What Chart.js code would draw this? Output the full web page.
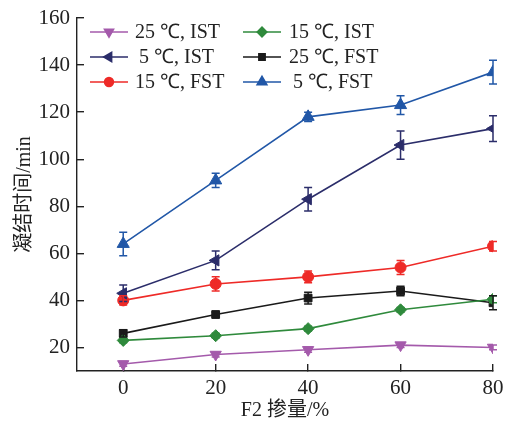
<!DOCTYPE html>
<html>
<head>
<meta charset="utf-8">
<script src="https://cdn.jsdelivr.net/npm/chart.js@4.4.1/dist/chart.umd.min.js"></script>
<style>
html,body{margin:0;padding:0;background:#fff;}
#wrap{width:509px;height:425px;position:relative;}
</style>
</head>
<body>
<div id="wrap"><canvas id="c" width="509" height="425"></canvas></div>
<script>
// ---- data ----
const categories = [0, 20, 40, 60, 80];
const xTicks = [0, 20, 40, 60, 80];
const yTicks = [20, 40, 60, 80, 100, 120, 140, 160];

const ist25 = [13, 17, 19, 21, 20];
const ist25Err = [1, 1, 1, 1, 1];
const ist15 = [23, 25, 28, 36, 40.5];
const ist15Err = [1, 1, 1, 1, 1.5];
const ist5 = [43, 57, 83, 106, 113];
const ist5Err = [3.5, 4, 5, 6, 5.5];
const fst25 = [26, 34, 41, 44, 39];
const fst25Err = [1.5, 1, 2.5, 2, 3];
const fst15 = [40, 47, 50, 54, 63];
const fst15Err = [2, 3, 2.5, 3, 2];
const fst5 = [64, 91, 118, 123, 137];
const fst5Err = [5, 3, 2, 4, 5];

const temps = ['25', '15', '5', '25', '15', '5'];
const kinds = ['IST', 'IST', 'IST', 'FST', 'FST', 'FST'];
const labels = temps.map((t, i) => t + ' ℃, ' + kinds[i]);

const serif = "'Liberation Serif', 'Times New Roman', serif";

function mk(label, vals, errs, color, style, rot, radius) {
  return {
    label: label,
    data: categories.map((x, i) => ({x: x, y: vals[i]})),
    errs: errs,
    borderColor: color,
    backgroundColor: color,
    pointBackgroundColor: color,
    pointBorderColor: color,
    pointStyle: style,
    rotation: rot,
    pointRadius: radius,
    pointBorderWidth: 1,
    borderWidth: 1.6,
    tension: 0,
    fill: false
  };
}

const datasets = [
  mk(labels[0], ist25, ist25Err, '#a45aab', 'triangle', 180, 6.5),
  mk(labels[1], ist15, ist15Err, '#2f8a3c', 'rectRot', 0, 6),
  mk(labels[2], ist5, ist5Err, '#2b2d6a', 'triangle', -90, 6.5),
  mk(labels[3], fst25, fst25Err, '#1a1a1a', 'rect', 0, 5.5),
  mk(labels[4], fst15, fst15Err, '#ee2a27', 'circle', 0, 5.5),
  mk(labels[5], fst5, fst5Err, '#2157a7', 'triangle', 0, 7)
];

const errorBars = {
  id: 'errorBars',
  afterDatasetsDraw(chart) {
    const ctx = chart.ctx, ys = chart.scales.y, xs = chart.scales.x;
    chart.data.datasets.forEach((ds) => {
      ctx.save();
      ctx.strokeStyle = ds.borderColor;
      ctx.lineWidth = 1.5;
      ds.data.forEach((p, i) => {
        const e = ds.errs[i];
        const px = xs.getPixelForValue(p.x);
        const y1 = ys.getPixelForValue(p.y + e), y2 = ys.getPixelForValue(p.y - e);
        ctx.beginPath();
        ctx.moveTo(px, y1); ctx.lineTo(px, y2);
        ctx.moveTo(px - 4, y1); ctx.lineTo(px + 4, y1);
        ctx.moveTo(px - 4, y2); ctx.lineTo(px + 4, y2);
        ctx.stroke();
      });
      ctx.restore();
    });
  }
};

const customLegend = {
  id: 'customLegend',
  afterDraw(chart) {
    const ctx = chart.ctx;
    const cols = [{lx: 90, tx: 135}, {lx: 243, tx: 289}];
    const rows = [32, 57, 82];
    ctx.save();
    ctx.textBaseline = 'middle';
    ctx.textAlign = 'left';
    ctx.font = "20px " + serif;
    chart.data.datasets.forEach((ds, i) => {
      const c = cols[i % 2], y = rows[Math.floor(i / 2)];
      ctx.strokeStyle = ds.borderColor;
      ctx.lineWidth = 1.6;
      ctx.beginPath();
      ctx.moveTo(c.lx, y); ctx.lineTo(c.lx + 38, y);
      ctx.stroke();
      ctx.fillStyle = ds.borderColor;
      Chart.helpers.drawPoint(ctx, {pointStyle: ds.pointStyle, rotation: ds.rotation, radius: ds.pointRadius * 0.8, borderWidth: 1}, c.lx + 19, y);
      ctx.fillStyle = '#222';
      const shift = temps[i].length === 1 ? 4 : 0;
      ctx.fillText(ds.label, c.tx + shift, y + 1);
    });
    ctx.restore();
  }
};

function noPad(s) {
  s.paddingTop = 0; s.paddingBottom = 0; s.paddingLeft = 0; s.paddingRight = 0;
}

new Chart(document.getElementById('c'), {
  type: 'line',
  data: {datasets: datasets},
  plugins: [errorBars, customLegend],
  options: {
    responsive: false,
    animation: false,
    devicePixelRatio: 1,
    layout: {padding: {top: 18, right: 16, left: 0, bottom: 0}},
    plugins: {legend: {display: false}, tooltip: {enabled: false}},
    scales: {
      x: {
        type: 'linear',
        min: -10, max: 80,
        afterBuildTicks: s => { s.ticks = xTicks.map(v => ({value: v})); },
        afterFit: s => { s.height = 54; noPad(s); },
        grid: {display: true, drawOnChartArea: false, drawTicks: true, tickLength: -7, color: '#222', lineWidth: 1.4},
        border: {display: true, color: '#222', width: 1.4},
        ticks: {padding: 12, color: '#222', font: {family: serif, size: 21}},
        title: {display: true, text: 'F2 掺量/%', color: '#222', font: {family: serif + ", 'Noto Sans CJK SC'", size: 20}, padding: {top: 0, bottom: 2}}
      },
      y: {
        type: 'linear',
        min: 10, max: 160,
        afterBuildTicks: s => { s.ticks = yTicks.map(v => ({value: v})); },
        afterFit: s => { s.width = 77; noPad(s); },
        grid: {display: true, drawOnChartArea: false, drawTicks: true, tickLength: -7, color: '#222', lineWidth: 1.4},
        border: {display: true, color: '#222', width: 1.4},
        ticks: {padding: 14, color: '#222', font: {family: serif, size: 21}},
        title: {display: true, text: '凝结时间/min', color: '#222', font: {family: serif + ", 'Noto Sans CJK SC'", size: 20}, padding: {top: 13, bottom: 0}}
      }
    }
  }
});
</script>
</body>
</html>
